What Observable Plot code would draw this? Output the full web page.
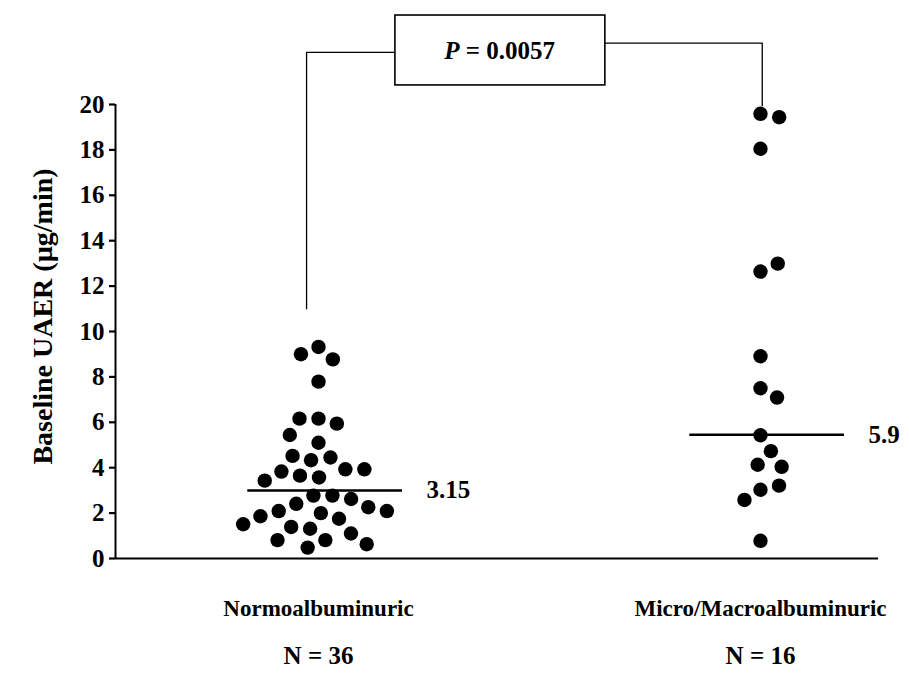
<!DOCTYPE html>
<html>
<head>
<meta charset="utf-8">
<script src="https://cdn.jsdelivr.net/npm/d3@7"></script>
<script src="https://cdn.jsdelivr.net/npm/@observablehq/plot@0.6"></script>
<style>
  html, body { margin: 0; padding: 0; background: #fff; }
  #chart svg { display: block; }
  #chart g[aria-label="y-axis tick"] path { stroke-width: 2.2; }
</style>
</head>
<body>
<div id="chart"></div>
<script>
// ---------- data ----------
const groupNames = ["Normoalbuminuric", "Micro/Macroalbuminuric"];
const groupCodes = [1, 2];
const groupCounts = ["N = 36", "N = 16"];

const normoValues = [
  9.32, 8.77, 9.00, 7.79, 6.16, 5.94, 6.16, 5.44, 5.10, 4.45,
  4.33, 4.52, 3.93, 3.57, 3.65, 3.83, 3.93, 3.43, 2.77, 2.77,
  2.41, 2.62, 2.09, 2.26, 2.00, 1.75, 1.86, 2.09, 1.31, 1.39,
  1.10, 1.51, 0.81, 0.81, 0.63, 0.48
];
const microValues = [
  19.59, 19.44, 18.05, 12.64, 12.99, 8.91, 7.50, 7.09, 5.43, 4.73,
  4.13, 4.04, 3.03, 3.21, 2.58, 0.78
];

const medianValues = [3.0, 5.45];
const medianLabels = ["3.15", "5.9"];

const yTicks = [0, 2, 4, 6, 8, 10, 12, 14, 16, 18, 20];
const yLabel = "Baseline UAER (µg/min)";

const pLabel = "P = 0.0057";
// annotation bracket, in data units (x: group code, y: UAER)
const bracketLeftX = [0.973, 0.973, 1.174];
const bracketLeftY = [11.0, 22.3, 22.3];
const bracketRightX = [1.649, 2.004, 2.004];
const bracketRightY = [22.7, 22.7, 19.95];
const pBoxX = [1.174, 1.649];
const pBoxY = [20.84, 23.92];
const pTextAt = [1.41, 22.35];

// ---------- layout ----------
const W = 909, H = 676;
const margin = {top: 104, right: 31, bottom: 118, left: 115};
const xDomain = [0.5407, 2.267];
const yDomain = [0, 20];
const FONT = "'Liberation Serif', 'Times New Roman', serif";

// pixel scales identical to Plot's, used only for the beeswarm packing
const xs = d3.scaleLinear(xDomain, [margin.left, W - margin.right]);
const ys = d3.scaleLinear(yDomain, [H - margin.bottom, margin.top]);
const pxPerUnit = xs(1) - xs(0);

function swarmOffsets(values, diam) {
  const placed = [];
  return values.map(v => {
    const y = ys(v);
    const cands = [0];
    for (const p of placed) {
      const dy = Math.abs(p.y - y);
      if (dy < diam) {
        const dx = Math.sqrt(diam * diam - dy * dy);
        cands.push(p.x + dx, p.x - dx);
      }
    }
    cands.sort((a, b) => Math.abs(a) - Math.abs(b));
    const x = cands.find(c => placed.every(p => (p.x - c) ** 2 + (p.y - y) ** 2 >= diam * diam - 1e-6));
    placed.push({x, y});
    return x / pxPerUnit;
  });
}

const seriesValues = [normoValues, microValues];
const dots = [];
seriesValues.forEach((vals, gi) => {
  const offs = swarmOffsets(vals, 19);
  vals.forEach((v, i) => dots.push({code: groupCodes[gi], value: v, off: offs[i]}));
});

const groupsData = groupNames.map((name, i) => ({code: groupCodes[i], name, n: groupCounts[i], median: medianValues[i], label: medianLabels[i]}));

const leftBracket = bracketLeftX.map((x, i) => ({x, y: bracketLeftY[i]}));
const rightBracket = bracketRightX.map((x, i) => ({x, y: bracketRightY[i]}));

const chart = Plot.plot({
  width: W,
  height: H,
  marginTop: margin.top,
  marginRight: margin.right,
  marginBottom: margin.bottom,
  marginLeft: margin.left,
  style: {fontFamily: FONT, fontWeight: "bold", fontSize: "24px", color: "black", background: "white"},
  x: {type: "linear", domain: xDomain, axis: null},
  y: {domain: yDomain, ticks: yTicks, tickSize: 6, tickPadding: 5, label: null, tickFormat: d => String(d)},
  marks: [
    // axes lines
    Plot.ruleX([xDomain[0]], {y1: 0, y2: 20, stroke: "black", strokeWidth: 2}),
    Plot.ruleY([0], {stroke: "black", strokeWidth: 2}),
    // bracket and P box
    Plot.line(leftBracket, {x: "x", y: "y", stroke: "black", strokeWidth: 1.3}),
    Plot.line(rightBracket, {x: "x", y: "y", stroke: "black", strokeWidth: 1.3}),
    Plot.rect([0], {x1: () => pBoxX[0], x2: () => pBoxX[1], y1: () => pBoxY[0], y2: () => pBoxY[1], fill: "white", stroke: "black", strokeWidth: 1.6}),
    Plot.text([pLabel], {x: () => pTextAt[0], y: () => pTextAt[1], text: d => d, fontSize: 25}),
    // dots
    Plot.dot(dots, {x: d => d.code + d.off, y: "value", r: 7.2, fill: "black", stroke: "none"}),
    // medians
    Plot.ruleY(groupsData, {y: "median", x1: d => d.code - 0.16, x2: d => d.code + 0.19, stroke: "black", strokeWidth: 2.5}),
    Plot.text(groupsData, {x: d => d.code + 0.19, y: "median", text: "label", textAnchor: "start", dx: 24, fontSize: 25}),
    // category labels
    Plot.text(groupsData, {x: "code", text: "name", frameAnchor: "bottom", dy: 57, fontSize: 23}),
    Plot.text(groupsData, {x: "code", text: "n", frameAnchor: "bottom", dy: 105, fontSize: 25}),
    // y label
    Plot.text([yLabel], {frameAnchor: "left", text: d => d, textAnchor: "middle", rotate: -90, dx: -72, dy: -15, fontSize: 28})
  ]
});

// larger y tick labels
d3.select(chart).selectAll('g[aria-label="y-axis tick label"]').attr("font-size", 25).style("font-size", "25px");
d3.select(chart).selectAll('g[aria-label="y-axis tick label"] text').style("font-size", "25px");

// italic P in the annotation
d3.select(chart).selectAll("text").filter(function() { return this.textContent === pLabel; })
  .each(function() {
    const t = d3.select(this);
    t.text(null);
    t.append("tspan").attr("font-style", "italic").text("P");
    t.append("tspan").text(" = 0.0057");
  });

document.getElementById("chart").appendChild(chart);
</script>
</body>
</html>
